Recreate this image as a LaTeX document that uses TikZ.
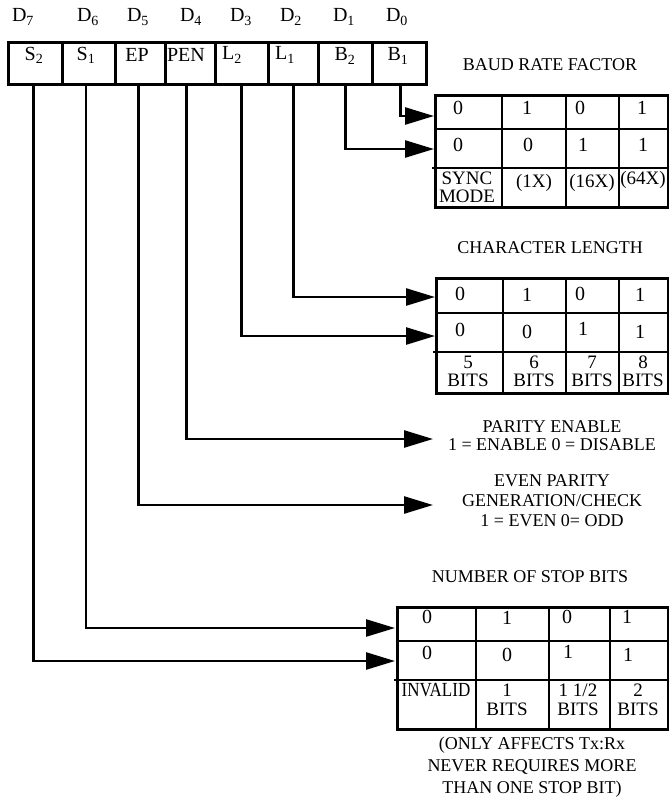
\documentclass[tikz,border=0pt]{standalone}
\usepackage{fontspec}
\setmainfont{Liberation Serif}
\usetikzlibrary{arrows.meta}
\begin{document}
\begin{tikzpicture}[x=1pt,y=-1pt,
  conn/.style={line width=2.6pt, -{Triangle[length=29pt,width=17pt]}},
  gridln/.style={line width=2.6pt},
  regcell/.style={draw, line width=2.6pt, minimum height=42pt, anchor=north west, inner sep=0pt},
  tbl/.style={draw, line width=2.6pt, anchor=north west, inner sep=0pt},
  big/.style={font=\fontsize{20}{20}\selectfont, inner sep=0pt},
  cell2/.style={font=\fontsize{19}{18}\selectfont, inner sep=0pt, align=center},
  ttl/.style={font=\fontsize{18}{18}\selectfont, inner sep=0pt, align=center},
]
\useasboundingbox (0,0) rectangle (669,804);

% bit labels
\node[big] (d7) at (23,17) {D\textsubscript{7}};
\node[big] (d6) at (88,17) {D\textsubscript{6}};
\node[big] (d5) at (138,17) {D\textsubscript{5}};
\node[big] (d4) at (191,17) {D\textsubscript{4}};
\node[big] (d3) at (241,17) {D\textsubscript{3}};
\node[big] (d2) at (291,17) {D\textsubscript{2}};
\node[big] (d1) at (344,17) {D\textsubscript{1}};
\node[big] (d0) at (397,17) {D\textsubscript{0}};

% register cells
\node[regcell, minimum width=54pt] (s2) at (7,41) {};
\node[regcell, minimum width=53pt] (s1) at (61,41) {};
\node[regcell, minimum width=50pt] (ep) at (114,41) {};
\node[regcell, minimum width=50pt] (pen) at (164,41) {};
\node[regcell, minimum width=53pt] (l2) at (214,41) {};
\node[regcell, minimum width=50pt] (l1) at (267,41) {};
\node[regcell, minimum width=54pt] (b2) at (317,41) {};
\node[regcell, minimum width=54pt] (b1) at (371,41) {};
\node[big] (ts2) at (34,55) {S\textsubscript{2}};
\node[big] (ts1) at (86,55) {S\textsubscript{1}};
\node[big] (tep) at (137,55) {EP};
\node[big] (tpen) at (186,55) {PEN};
\node[big] (tl2) at (232,55) {L\textsubscript{2}};
\node[big] (tl1) at (285,55) {L\textsubscript{1}};
\node[big] (tb2) at (345,56) {B\textsubscript{2}};
\node[big] (tb1) at (398,56) {B\textsubscript{1}};

% ---------- baud rate table ----------
\node[ttl] (baudT) at (550,65) {BAUD RATE FACTOR};
\node[tbl, minimum width=233pt, minimum height=112pt] (baud) at (434,94) {};
\draw[gridln] (434,129) -- (667,129) (432,168) -- (667,168)
  (502,94) -- (502,206) (566,94) -- (566,206) (619,94) -- (619,206);
\node[big] at (458,108) {0};
\node[big] at (527,108) {1};
\node[big] at (580,108) {0};
\node[big] at (642,108) {1};
\node[big] at (458,145) {0};
\node[big] at (528,145) {0};
\node[big] at (583,145) {1};
\node[big] at (643,145) {1};
\node[cell2] at (467,187) {SYNC\\MODE};
\node[cell2] at (534,183) {(1X)};
\node[cell2] at (592,183) {(16X)};
\node[cell2] at (643,180) {(64X)};

% ---------- character length table ----------
\node[ttl] (charT) at (550,248) {CHARACTER LENGTH};
\node[tbl, minimum width=232pt, minimum height=115pt] (chr) at (435,277) {};
\draw[gridln] (435,313) -- (667,313) (433,352) -- (667,352)
  (503,277) -- (503,392) (566,277) -- (566,392) (619,277) -- (619,392);
\node[big] at (460,294) {0};
\node[big] at (527,295) {1};
\node[big] at (580,294) {0};
\node[big] at (640,295) {1};
\node[big] at (460,330) {0};
\node[big] at (527,332) {0};
\node[big] at (583,329) {1};
\node[big] at (640,332) {1};
\node[cell2] at (468,371) {5\\BITS};
\node[cell2] at (534,371) {6\\BITS};
\node[cell2] at (592,371) {7\\BITS};
\node[cell2] at (643,371) {8\\BITS};

% ---------- parity texts ----------
\node[ttl] (parT) at (552,436) {PARITY ENABLE\\1 = ENABLE 0 = DISABLE};
\node[ttl, font=\fontsize{18}{20}\selectfont] (epT) at (552,501) {EVEN PARITY\\GENERATION/CHECK\\1 = EVEN 0= ODD};

% ---------- stop bits table ----------
\node[ttl] (stopT) at (530,577) {NUMBER OF STOP BITS};
\node[tbl, minimum width=271pt, minimum height=122pt] (stp) at (396,606) {};
\draw[gridln] (396,641) -- (667,641) (394,680) -- (667,680)
  (476,606) -- (476,728) (549,606) -- (549,728) (610,606) -- (610,728);
\node[big] at (427,617) {0};
\node[big] at (507,618) {1};
\node[big] at (567,617) {0};
\node[big] at (627,617) {1};
\node[big] at (427,653) {0};
\node[big] at (507,655) {0};
\node[big] at (568,652) {1};
\node[big] at (628,655) {1};
\node[big] at (436,690) {\scalebox{0.85}[1]{INVALID}};
\node[cell2, font=\fontsize{19}{19}\selectfont] at (507,700) {1\\BITS};
\node[cell2, font=\fontsize{19}{19}\selectfont] at (578,700) {1 1/2\\BITS};
\node[cell2, font=\fontsize{19}{19}\selectfont] at (638,700) {2\\BITS};
\node[ttl, font=\fontsize{18}{22}\selectfont] (note) at (532,767) {(ONLY AFFECTS Tx:Rx\\NEVER REQUIRES MORE\\THAN ONE STOP BIT)};

% ---------- connectors ----------
\coordinate (inB1) at (434,116);
\coordinate (inB2) at (434,149);
\coordinate (inL1) at (435,297);
\coordinate (inL2) at (435,336);
\coordinate (inPEN) at (433,439);
\coordinate (inEP) at (433,505);
\coordinate (inS1) at (395,628);
\coordinate (inS2) at (395,661);
\draw[conn] ([xshift=1pt]b1.south) |- (inB1);
\draw[conn] (b2.south) |- (inB2);
\draw[conn] ([xshift=0pt]l1.south) |- (inL1);
\draw[conn] ([xshift=-0.5pt]l2.south) |- (inL2);
\draw[conn] ([xshift=-4pt]pen.south) |- (inPEN);
\draw[conn] ([xshift=-2pt]ep.south) |- (inEP);
\draw[conn] ([xshift=-3pt]s1.south) |- (inS1);
\draw[conn] ([xshift=-2pt]s2.south) |- (inS2);
\end{tikzpicture}
\end{document}
